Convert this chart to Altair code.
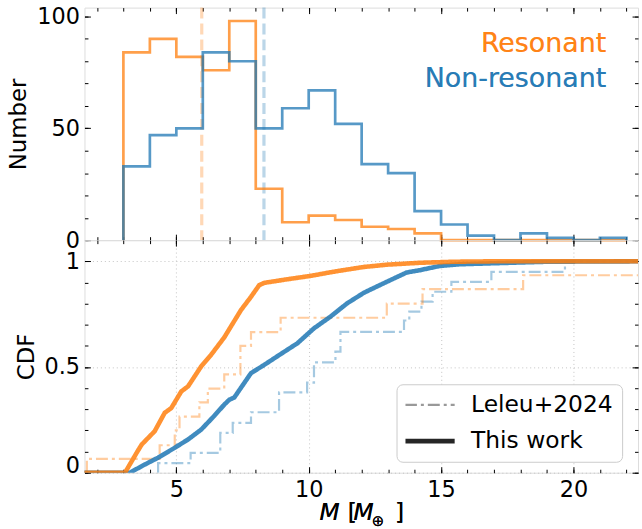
import altair as alt
import pandas as pd

FONT = "DejaVu Sans"

# ---------------------------------------------------------------- data
series_names = ["Resonant", "Non-resonant"]
series_colors = ["#ff7f0e", "#1f77b4"]
sources = ["Leleu+2024", "This work"]

# histogram: unit-wide mass bins from 3 to 22 Earth masses
bin_edges = [3, 4, 5, 6, 7, 8, 9, 10, 11, 12, 13, 14, 15, 16, 17, 18, 19, 20, 21, 22]
res_counts = [84, 90, 82, 76, 98, 23, 8, 11, 9, 6, 5, 3, 0, 0, 0, 0, 0, 0, 0]
nonres_counts = [33, 47, 50, 84, 80, 50, 59, 67, 52, 34, 30, 13, 7, 2, 0, 3, 1, 0, 1]
median_mass = [5.96, 8.31]

# cumulative distributions, this work
res_cdf_mass = [1.5, 3.06, 3.5, 3.69, 4.18, 4.56, 4.81, 5.19, 5.44, 5.94, 6.31, 6.81,
                7.44, 7.82, 8.13, 8.32, 9.19, 10.07, 11.0, 12.07, 12.95, 14.2, 15.5, 17.0, 22.44]
res_cdf = [0.0, 0.0, 0.094, 0.133, 0.196, 0.283, 0.306, 0.385, 0.408, 0.503, 0.557, 0.64,
           0.769, 0.832, 0.887, 0.898, 0.915, 0.931, 0.952, 0.973, 0.984, 0.993, 0.998, 1.0, 1.0]
nonres_cdf_mass = [1.5, 3.25, 3.69, 4.31, 4.94, 5.44, 5.94, 6.44, 6.81, 7.0, 7.19, 7.82, 8.32,
                   8.94, 9.57, 10.2, 10.82, 11.45, 12.07, 12.33, 12.95, 13.7, 14.2, 14.95,
                   15.7, 17.33, 19.0, 22.44]
nonres_cdf = [0.0, 0.0, 0.031, 0.071, 0.118, 0.157, 0.204, 0.27, 0.322, 0.345, 0.356, 0.471,
              0.51, 0.561, 0.612, 0.683, 0.738, 0.801, 0.85, 0.866, 0.903, 0.947, 0.958,
              0.978, 0.986, 0.992, 0.998, 1.0]

# cumulative distributions, Leleu+2024 (empirical step functions)
leleu_res_mass = [1.62, 4.37, 4.94, 5.12, 5.87, 6.19, 6.81, 7.42, 7.82, 8.94, 12.95, 14.3, 18.1, 22.44]
leleu_res_cdf = [0.065, 0.13, 0.2, 0.265, 0.333, 0.398, 0.465, 0.6, 0.665, 0.733, 0.8, 0.868, 0.934, 0.934]
leleu_nonres_mass = [4.31, 5.54, 6.66, 7.13, 7.82, 8.88, 9.94, 10.2, 11.01, 11.2, 13.6, 13.8,
                     14.26, 14.68, 15.39, 16.9, 19.68, 22.44]
leleu_nonres_cdf = [0.045, 0.094, 0.188, 0.236, 0.286, 0.38, 0.426, 0.522, 0.573, 0.666, 0.72,
                    0.762, 0.809, 0.856, 0.903, 0.95, 1.0, 1.0]

# ---------------------------------------------------------------- tables
def hist_rows(series, counts):
    rows = [{"series": series, "M": bin_edges[0], "N": 0, "i": 0}]
    for k, c in enumerate(counts):
        rows.append({"series": series, "M": bin_edges[k], "N": c, "i": k + 1})
    rows.append({"series": series, "M": bin_edges[-1], "N": 0, "i": len(counts) + 1})
    return rows

hist = pd.DataFrame(hist_rows("Resonant", res_counts) + hist_rows("Non-resonant", nonres_counts))
medians = pd.DataFrame({"series": series_names, "M": median_mass})

def cdf_rows(series, source, masses, values, start_at_zero=False):
    rows = []
    if start_at_zero:
        rows.append({"series": series, "source": source, "M": masses[0], "F": 0.0, "i": 0})
    for k, (m, f) in enumerate(zip(masses, values)):
        rows.append({"series": series, "source": source, "M": m, "F": f, "i": k + 1})
    return rows

leleu = pd.DataFrame(
    cdf_rows("Non-resonant", sources[0], leleu_nonres_mass, leleu_nonres_cdf, True)
    + cdf_rows("Resonant", sources[0], leleu_res_mass, leleu_res_cdf, True)
)
work = pd.DataFrame(
    cdf_rows("Non-resonant", sources[1], nonres_cdf_mass, nonres_cdf)
    + cdf_rows("Resonant", sources[1], res_cdf_mass, res_cdf)
)

# ---------------------------------------------------------------- scales / axes
W, H = 557, 234
x_scale = alt.Scale(domain=[1.53, 22.44], nice=False, zero=False)
y_top_scale = alt.Scale(domain=[0, 104], nice=False)
y_cdf_scale = alt.Scale(domain=[0, 1.1], nice=False)
color_scale = alt.Scale(domain=series_names, range=series_colors)

x_major = [5, 10, 15, 20]
x_minor = list(range(2, 23))

def axis(orient, values, size, **kw):
    opts = dict(orient=orient, values=values, tickSize=alt.ExprRef(expr=str(-size)),
                tickColor="black", tickWidth=1, domain=False, labels=False, grid=False,
                title=None, labelFont=FONT, labelFontSize=22.5, labelColor="black",
                labelFlush=False, labelOverlap=False, titleFont=FONT, titleFontSize=23,
                titleFontWeight="normal", titleColor="black")
    opts.update(kw)
    return alt.Axis(**opts)

grid_kw = dict(grid=True, gridDash=[1, 3], gridColor="#c4c4c4", gridWidth=1)

def carriers(data, xf, yf, y_scale, x_maj, x_min, y_maj, y_min):
    """Invisible layers that hold the top/right and minor tick axes."""
    combos = [
        (axis("top", x_maj, 6), axis("right", y_maj, 6)),
        (axis("bottom", x_min, 3.5), axis("left", y_min, 3.5)),
        (axis("top", x_min, 3.5), axis("right", y_min, 3.5)),
    ]
    return [
        alt.Chart(data).mark_point(opacity=0).encode(
            x=alt.X(f"{xf}:Q", scale=x_scale, axis=ax_x),
            y=alt.Y(f"{yf}:Q", scale=y_scale, axis=ax_y),
        )
        for ax_x, ax_y in combos
    ]

# ---------------------------------------------------------------- top: histograms
hist_lines = alt.Chart(hist).mark_line(interpolate="step-after", strokeWidth=2.7, opacity=0.75).encode(
    x=alt.X("M:Q", scale=x_scale, axis=axis("bottom", x_major, 6)),
    y=alt.Y("N:Q", scale=y_top_scale,
            axis=axis("left", [0, 50, 100], 6, labels=True, labelPadding=11,
                      title="Number", titlePadding=6)),
    color=alt.Color("series:N", scale=color_scale, legend=None),
    detail="series:N",
    order="i:Q",
)

median_rules = alt.Chart(medians).mark_rule(strokeWidth=3.2, strokeDash=[11, 5], opacity=0.3).encode(
    x=alt.X("M:Q", scale=x_scale, axis=None),
    color=alt.Color("series:N", scale=color_scale, legend=None),
)

name_res = alt.Chart(medians).mark_text(
    text=series_names[0], font=FONT, fontSize=27, color=series_colors[0], opacity=0.8,
    align="right", baseline="alphabetic",
).encode(x=alt.value(525), y=alt.value(45))
name_nonres = alt.Chart(medians).mark_text(
    text=series_names[1], font=FONT, fontSize=27, color=series_colors[1], opacity=0.8,
    align="right", baseline="alphabetic",
).encode(x=alt.value(525), y=alt.value(79.5))

top = alt.layer(
    median_rules, hist_lines, name_res, name_nonres,
    *carriers(hist, "M", "N", y_top_scale, x_major, x_minor, [0, 50, 100], list(range(0, 105, 10))),
).resolve_axis(x="independent", y="independent").properties(width=W, height=H)

# ---------------------------------------------------------------- bottom: CDFs
dash_scale = alt.Scale(domain=sources, range=[[12, 4, 3, 4], [1, 0]])
opacity_scale = alt.Scale(domain=sources, range=[0.4, 0.85])
width_scale = alt.Scale(domain=sources, range=[2.2, 4.6])
cdf_legend = alt.Legend(
    orient="none", legendX=314, legendY=145, title=None, fillColor="white",
    strokeColor="#cccccc", cornerRadius=6, padding=9, labelFont=FONT, labelFontSize=23.5,
    labelColor="black", symbolType="stroke", symbolSize=2500, symbolStrokeColor="black",
    symbolOffset=-3, labelOffset=14, clipHeight=23.5, rowPadding=11.5,
)

def style_enc():
    return dict(
        strokeDash=alt.StrokeDash("source:N", scale=dash_scale, legend=cdf_legend),
        opacity=alt.Opacity("source:N", scale=opacity_scale, legend=cdf_legend),
        strokeWidth=alt.StrokeWidth("source:N", scale=width_scale, legend=cdf_legend),
        color=alt.Color("series:N", scale=color_scale, legend=None),
        detail="series:N",
        order="i:Q",
    )

leleu_lines = alt.Chart(leleu).mark_line(interpolate="step-after", clip=True).encode(
    x=alt.X("M:Q", scale=x_scale,
            axis=axis("bottom", x_major, 6, labels=True, labelPadding=12, **grid_kw)),
    y=alt.Y("F:Q", scale=y_cdf_scale,
            axis=axis("left", [0, 0.5, 1], 6, labels=True, labelPadding=11, format="~g",
                      title="CDF", titlePadding=6,
                      labelBaseline={"condition": {"test": "datum.value === 0", "value": "alphabetic"},
                                     "value": "middle"},
                      **grid_kw)),
    **style_enc(),
)
work_lines = alt.Chart(work).mark_line(clip=True).encode(
    x=alt.X("M:Q", scale=x_scale, axis=None),
    y=alt.Y("F:Q", scale=y_cdf_scale, axis=None),
    **style_enc(),
)

# x-axis title: M [M_⊕] set as mathtext-style pieces
title_pieces = [
    ("M", 236.4, 282, 23.5, "italic"),
    ("[", 265.0, 282, 23.5, "normal"),
    ("M", 270.7, 282, 23.5, "italic"),
    ("⊕", 289.0, 287.5, 15, "normal"),
    ("]", 312.4, 282, 23.5, "normal"),
]
title_layers = [
    alt.Chart(medians).mark_text(text=t, font=FONT, fontSize=fs, fontStyle=st, color="black",
                                 align="left", baseline="alphabetic").encode(
        x=alt.value(px), y=alt.value(py))
    for t, px, py, fs, st in title_pieces
]

bottom = alt.layer(
    leleu_lines, work_lines,
    *carriers(work, "M", "F", y_cdf_scale, x_major, x_minor, [0, 0.5, 1],
              [round(0.1 * k, 1) for k in range(11)]),
    *title_layers,
).resolve_axis(x="independent", y="independent").properties(width=W, height=H)

chart = (
    alt.vconcat(top, bottom, spacing=0, bounds="flush")
    .resolve_scale(color="independent", strokeDash="independent", opacity="independent",
                   strokeWidth="independent")
    .resolve_legend(strokeDash="independent", opacity="independent", strokeWidth="independent")
    .properties(padding={"left": 7, "top": 3, "right": 0, "bottom": 0}, background="white")
    .configure_view(stroke="black", strokeWidth=1.2)
    .configure(font=FONT)
)

chart.save("out.html", embed_options={"renderer": "svg", "actions": False})
